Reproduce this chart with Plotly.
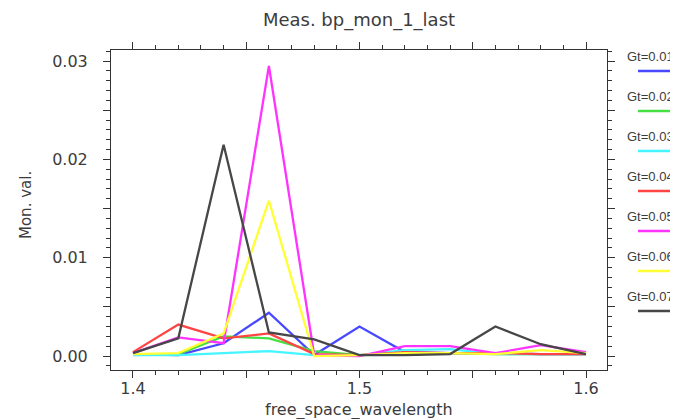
import plotly.graph_objects as go

wavelength = [1.40, 1.42, 1.44, 1.46, 1.48, 1.50, 1.52, 1.54, 1.56, 1.58, 1.60]

gt_001 = [0.0002, 0.0001, 0.0013, 0.0044, 0.0001, 0.0030, 0.0004, 0.0003, 0.0003, 0.0002, 0.0002]
gt_002 = [0.0002, 0.0002, 0.0020, 0.0018, 0.0005, 0.0001, 0.0003, 0.0003, 0.0002, 0.0002, 0.0002]
gt_003 = [0.0001, 0.0001, 0.0003, 0.0005, 0.0001, 0.0001, 0.0006, 0.0007, 0.0002, 0.0002, 0.0002]
gt_004 = [0.0004, 0.0032, 0.0018, 0.0023, 0.0002, 0.0001, 0.0004, 0.0003, 0.0003, 0.0002, 0.0002]
gt_005 = [0.0003, 0.0019, 0.0013, 0.0295, 0.0001, 0.0000, 0.0010, 0.0010, 0.0003, 0.0011, 0.0004]
gt_006 = [0.0002, 0.0003, 0.0023, 0.0158, 0.0000, 0.0001, 0.0003, 0.0003, 0.0002, 0.0006, 0.0003]
gt_007 = [0.0003, 0.0018, 0.0215, 0.0024, 0.0017, 0.0001, 0.0001, 0.0002, 0.0030, 0.0012, 0.0002]

series_names = ["Gt=0.01", "Gt=0.02", "Gt=0.03", "Gt=0.04", "Gt=0.05", "Gt=0.06", "Gt=0.07"]
series_values = [gt_001, gt_002, gt_003, gt_004, gt_005, gt_006, gt_007]
colors = ["#4848ff", "#44e044", "#44f4ff", "#ff4444", "#ff33ff", "#ffff33", "#474747"]

x_tickvals = [1.40, 1.45, 1.50, 1.55, 1.60]
x_ticktext = ["1.4", "", "1.5", "", "1.6"]
y_tickvals = [0.0, 0.005, 0.01, 0.015, 0.02, 0.025, 0.03]
y_ticktext = ["0.00", "", "0.01", "", "0.02", "", "0.03"]

W, H = 678, 419
L, R, T, B = 103, 79, 42, 57
pw, ph = W - L - R, H - T - B

fig = go.Figure()
for name, vals, c in zip(series_names, series_values, colors):
    fig.add_trace(go.Scatter(x=wavelength, y=vals, mode="lines", name=name,
                             line=dict(color=c, width=2.3), showlegend=False))

txt = "#3c3c3c"
font = "DejaVu Sans, Arial, sans-serif"
lfont = "Liberation Sans, Arial, sans-serif"

annotations = []
shapes = []
for i, (name, c) in enumerate(zip(series_names, colors)):
    ty = 48 + i * 40
    ly = 63 + i * 40
    annotations.append(dict(text=name, xref="paper", yref="paper",
                            x=(617 - L) / pw, y=(H - B - ty) / ph,
                            xanchor="left", yanchor="middle", showarrow=False,
                            font=dict(size=13, color=txt, family=lfont)))
    shapes.append(dict(type="line", xref="paper", yref="paper",
                       x0=(630 - L) / pw, x1=(700 - L) / pw,
                       y0=(H - B - ly) / ph, y1=(H - B - ly) / ph,
                       line=dict(color=c, width=2.3)))

annotations.append(dict(text="free_space_wavelength", xref="paper", yref="paper",
                        x=(351 - L) / pw, y=(H - B - 402) / ph, xanchor="center",
                        yanchor="middle", showarrow=False,
                        font=dict(size=16, color=txt, family=font)))
annotations.append(dict(text="Mon. val.", xref="paper", yref="paper",
                        x=(18 - L) / pw, y=(H - B - 197) / ph, xanchor="center",
                        yanchor="middle", showarrow=False, textangle=-90,
                        font=dict(size=15, color=txt, family=font)))

fig.update_layout(
    width=W, height=H,
    margin=dict(l=L, r=R, t=T, b=B),
    paper_bgcolor="white", plot_bgcolor="white",
    title=dict(text="Meas. bp_mon_1_last", x=351 / W, xref="container", xanchor="center",
               y=1 - 12 / H, yref="container", yanchor="middle",
               font=dict(size=18, color=txt, family=font)),
    annotations=annotations, shapes=shapes,
    xaxis=dict(range=[1.39029, 1.60927], tickvals=x_tickvals, ticktext=x_ticktext,
               ticks="outside", ticklen=7, tickwidth=1, tickcolor="#333",
               showline=True, linecolor="#333", linewidth=1, mirror="allticks",
               showgrid=False, zeroline=False,
               tickfont=dict(size=16, color=txt, family=font),
               ticklabelstandoff=-3,
               minor=dict(dtick=0.01, ticks="outside", ticklen=4, tickcolor="#333", showgrid=False)),
    yaxis=dict(range=[-0.00142, 0.03113], tickvals=y_tickvals, ticktext=y_ticktext,
               ticks="outside", ticklen=7, tickwidth=1, tickcolor="#333",
               showline=True, linecolor="#333", linewidth=1, mirror="allticks",
               showgrid=False, zeroline=False,
               tickfont=dict(size=16, color=txt, family=font),
               ticklabelstandoff=12,
               minor=dict(dtick=0.001, ticks="outside", ticklen=4, tickcolor="#333", showgrid=False)),
)

fig.write_html("out.html")
